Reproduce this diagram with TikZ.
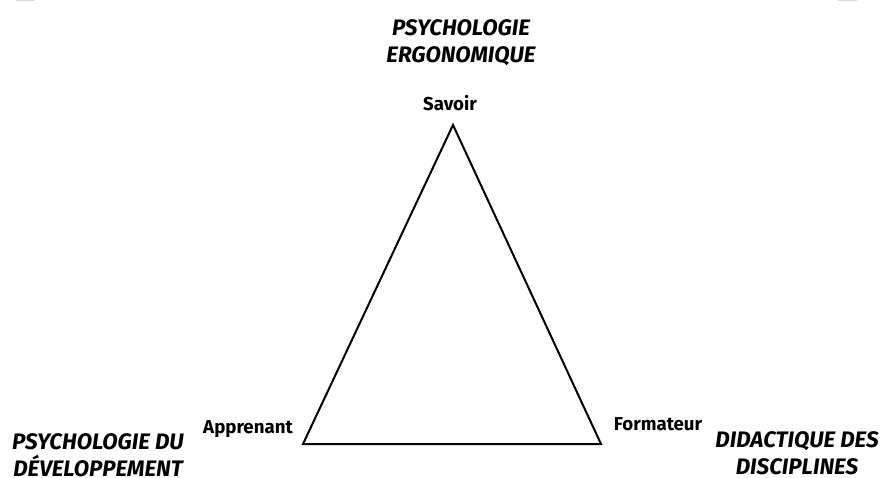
\documentclass[tikz,border=0pt]{standalone}
\usepackage{fontspec}
\setmainfont{Fira Sans}
\begin{document}
\begin{tikzpicture}[x=0.75pt,y=-0.75pt,
  vertex/.style={font=\fontsize{14}{20}\selectfont\bfseries, inner sep=0pt},
  field/.style={font=\fontsize{16.8}{20.25}\selectfont\bfseries\itshape, inner sep=0pt, align=center},
  edge/.style={line width=1.5pt, line join=miter}]
\useasboundingbox (0,0) rectangle (885,478);
\fill[gray!30] (16,0) rectangle (35,1.5);
\fill[gray!30] (838,0) rectangle (857,1.5);
\coordinate (top) at (453,125);
\coordinate (left) at (303,444);
\coordinate (right) at (601,444);
\draw[edge] (top) -- (left) -- (right) -- cycle;
\node[vertex, anchor=base] (savoir) at (450,110) {Savoir};
\node[vertex, anchor=base] (apprenant) at (248,433) {Apprenant};
\node[vertex, anchor=base] (formateur) at (658,430) {Formateur};
\node[field, anchor=base] (ergo) at (461,63) {PSYCHOLOGIE\\ERGONOMIQUE};
\node[field, anchor=base] (dev) at (98,476) {PSYCHOLOGIE DU\\DÉVELOPPEMENT};
\node[field, anchor=base] (did) at (797,474) {DIDACTIQUE DES\\DISCIPLINES};
\end{tikzpicture}
\end{document}
